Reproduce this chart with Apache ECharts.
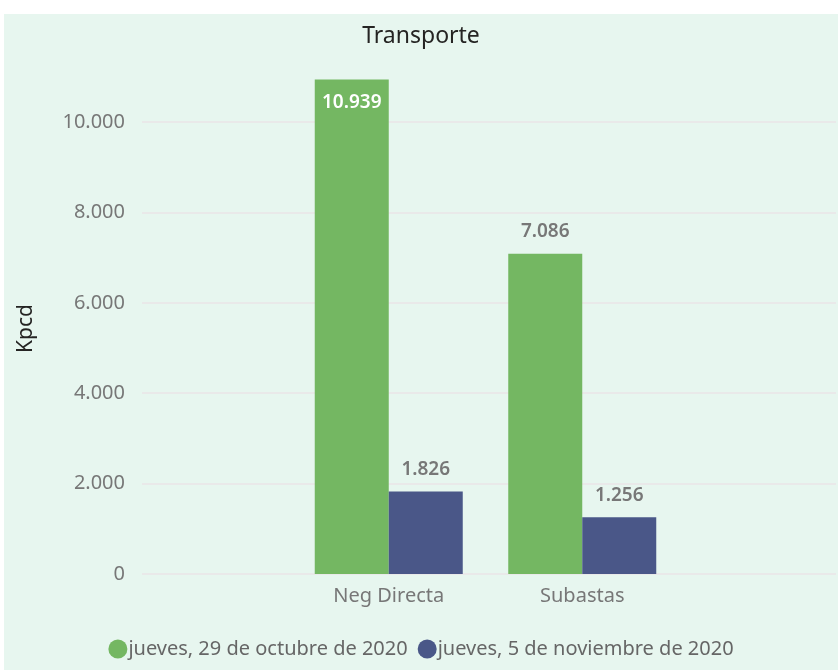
<!DOCTYPE html>
<html>
<head>
<meta charset="utf-8">
<script src="https://cdn.jsdelivr.net/npm/echarts@6/dist/echarts.min.js"></script>
<style>
html,body{margin:0;padding:0;background:#ffffff;}
#c{position:absolute;left:4px;top:14px;width:834px;height:656px;background:#e7f6ef;}
</style>
</head>
<body>
<div id="c"></div>
<script>
const categories = ['Neg Directa', 'Subastas'];
const seriesNames = ['jueves, 29 de octubre de 2020', 'jueves, 5 de noviembre de 2020'];
const values29Oct = [10939, 7086];
const values5Nov = [1826, 1256];
const yTicks = [0, 2000, 4000, 6000, 8000, 10000];

function fmt(v) {
  return String(Math.round(v)).replace(/\B(?=(\d{3})+(?!\d))/g, '.');
}

const chart = echarts.init(document.getElementById('c'), null, {renderer: 'canvas'});
const FONT = 'Noto Sans';
const T = 108, B = 96; // grid top / bottom in container coords

const option = {
  backgroundColor: '#e7f6ef',
  animation: false,
  title: {
    text: 'Transporte', left: 'center', top: 6, padding: [5, 0, 5, 8],
    textStyle: {fontFamily: FONT, fontSize: 23, fontWeight: 'normal', color: '#252423'}
  },
  legend: {
    bottom: 6, left: 'center', icon: 'circle', itemWidth: 19, itemHeight: 19, itemGap: 10,
    textStyle: {fontFamily: FONT, fontSize: 20, color: '#666666', padding: [0, 0, 0, -4]},
    data: seriesNames
  },
  graphic: [{
    type: 'text', left: 12, top: 290, rotation: Math.PI / 2,
    style: {text: 'Kpcd', fontFamily: FONT, fontSize: 21, fill: '#252423'}
  }],
  grid: [
    {left: 138, right: 2, top: T, bottom: B},
    {left: 288, right: 159, top: T, bottom: B}
  ],
  xAxis: [
    {gridIndex: 0, type: 'value', show: false, min: 0, max: 1},
    {gridIndex: 1, type: 'category', data: categories,
     axisLine: {show: false}, axisTick: {show: false},
     axisLabel: {fontFamily: FONT, fontSize: 20, color: '#777777', margin: 12}}
  ],
  yAxis: [
    {gridIndex: 0, type: 'value', min: yTicks[0], max: yTicks[yTicks.length - 1], interval: 2000,
     axisLine: {show: false}, axisTick: {show: false},
     axisLabel: {fontFamily: FONT, fontSize: 20, color: '#777777', margin: 17, formatter: v => fmt(v)},
     splitLine: {show: true, lineStyle: {color: '#e9e9e9', width: 2}}},
    {gridIndex: 1, type: 'value', min: yTicks[0], max: yTicks[yTicks.length - 1], show: false,
     splitLine: {show: false}}
  ],
  series: [
    {name: seriesNames[0], type: 'bar', xAxisIndex: 1, yAxisIndex: 1,
     data: values29Oct.map(v => v > yTicks[yTicks.length - 1]
       ? {value: v, label: {position: 'insideTop', distance: 14, color: '#ffffff'}}
       : v),
     barWidth: 74, barGap: '0%', clip: false,
     itemStyle: {color: '#74b762'},
     label: {show: true, position: 'top', distance: 13, fontFamily: FONT, fontSize: 19, fontWeight: 600,
       color: '#777777', formatter: p => fmt(p.value)}
    },
    {name: seriesNames[1], type: 'bar', xAxisIndex: 1, yAxisIndex: 1, data: values5Nov,
     barWidth: 74, barGap: '0%', clip: false,
     itemStyle: {color: '#4a5788'},
     label: {show: true, position: 'top', distance: 12, fontFamily: FONT, fontSize: 19, fontWeight: 600,
       color: '#777777', formatter: p => fmt(p.value)}}
  ]
};
chart.setOption(option);
</script>
</body>
</html>
